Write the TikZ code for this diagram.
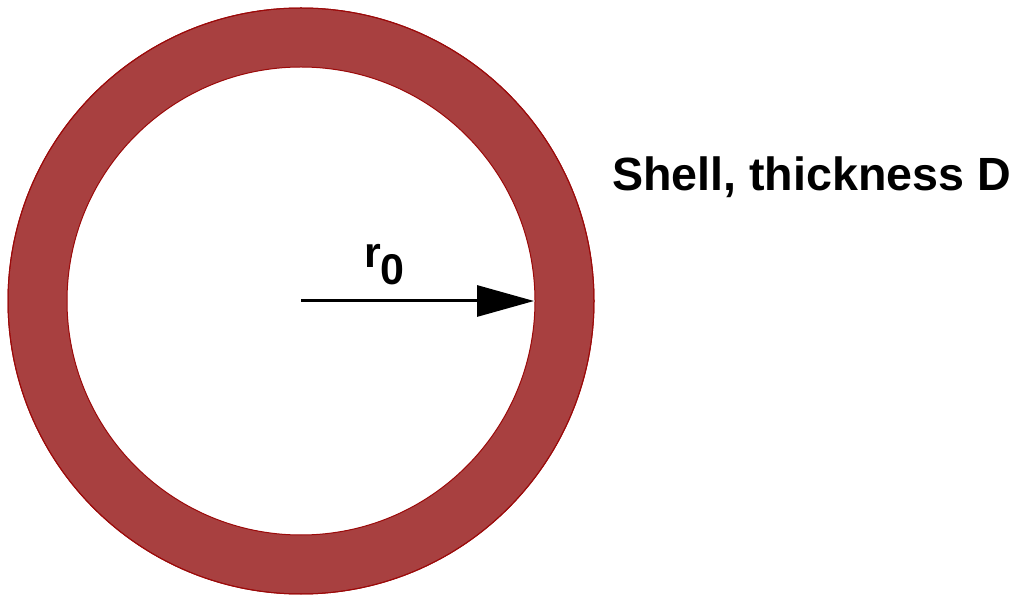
\documentclass[tikz,border=0pt]{standalone}
\usepackage{fontspec}
\setmainfont{Liberation Sans}
\usetikzlibrary{arrows.meta}
\definecolor{shellred}{RGB}{168,64,64}
\definecolor{shelledge}{RGB}{155,10,10}

\begin{document}
\begin{tikzpicture}[x=1pt, y=1pt,
  ring/.style={fill=shellred, draw=shelledge, line width=1pt, even odd rule},
  radius arrow/.style={line width=3pt, -{Triangle[length=57pt, width=31pt]}},
  lbl/.style={font=\bfseries\fontsize{46.6}{50}\selectfont, inner sep=0pt}
]
  \useasboundingbox (0,0) rectangle (1015,603);

  \coordinate (centre) at (301,302);
  \coordinate (rim) at (534,302);

  % shell
  \fill[ring] (centre) circle[radius=293] (centre) circle[radius=234];
  \draw[shelledge, line width=1pt] (centre) circle[radius=293];

  \draw[radius arrow] (centre) -- (rim);
  \node[inner sep=0pt, font=\bfseries\fontsize{43}{48}\selectfont, anchor=base west]
    (rlabel) at (364,335) {r\raisebox{-17pt}{0}};

  \node[lbl] (shell) at (811.5,426) {Shell, thickness D};
\end{tikzpicture}
\end{document}
